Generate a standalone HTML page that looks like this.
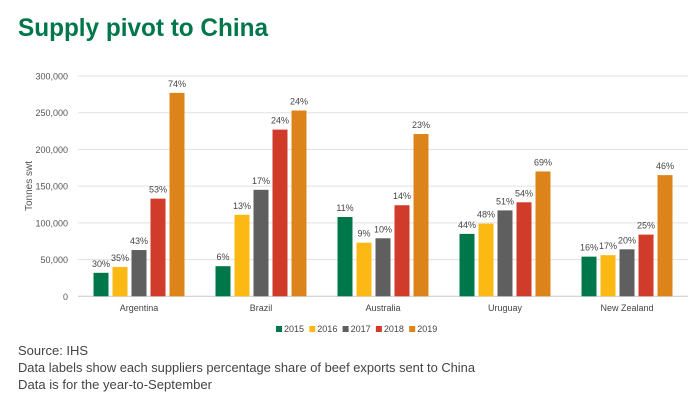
<!DOCTYPE html>
<html><head><meta charset="utf-8"><style>
body{margin:0;background:#fff}
svg{display:block;font-family:"Liberation Sans",sans-serif}
</style></head><body>
<svg id="chart" width="700" height="402" viewBox="0 0 700 402">
<text x="18" y="36" font-size="25" font-weight="bold" fill="#00774a" textLength="250" lengthAdjust="spacingAndGlyphs">Supply pivot to China</text>
<g id="grid"></g>
<g id="yaxis"></g>
<text transform="translate(32,186) rotate(-90)" text-anchor="middle" font-size="10" fill="#555">Tonnes swt</text>
<g id="bars"></g>
<g id="xaxis"></g>
<g id="legend"></g>
<g font-size="13" fill="#444">
<text x="18" y="355">Source: IHS</text>
<text x="18" y="372" textLength="457" lengthAdjust="spacingAndGlyphs">Data labels show each suppliers percentage share of beef exports sent to China</text>
<text x="18" y="389" textLength="194" lengthAdjust="spacingAndGlyphs">Data is for the year-to-September</text>
</g>
</svg>
<script>
const categories=["Argentina","Brazil","Australia","Uruguay","New Zealand"];
const years=["2015","2016","2017","2018","2019"];
const s2015=[32000,41000,108000,85000,54000];
const s2016=[40000,111000,73000,99000,56000];
const s2017=[63000,145000,79000,117000,64000];
const s2018=[133000,227000,124000,128000,84000];
const s2019=[277000,253000,221000,170000,165000];
const l2015=["30%","6%","11%","44%","16%"];
const l2016=["35%","13%","9%","48%","17%"];
const l2017=["43%","17%","10%","51%","20%"];
const l2018=["53%","24%","14%","54%","25%"];
const l2019=["74%","24%","23%","69%","46%"];
const yTicks=[0,50000,100000,150000,200000,250000,300000];
const colors=["#00774a","#fdb913","#5f5f5f","#d13b2a","#dc8419"];
const series=[s2015,s2016,s2017,s2018,s2019];
const labels=[l2015,l2016,l2017,l2018,l2019];
const NS="http://www.w3.org/2000/svg";
const x0=78,x1=688,y0=296.3,yTop=76,yMax=300000;
const yS=v=>y0-(v/yMax)*(y0-yTop);
const gw=(x1-x0)/categories.length;
const gc=i=>x0+gw*(i+0.5);
function mk(t,a,p){const e=document.createElementNS(NS,t);for(const k in a)e.setAttribute(k,a[k]);p.appendChild(e);return e;}
const grid=document.getElementById('grid'),ya=document.getElementById('yaxis');
yTicks.forEach(v=>{
 const l=mk('line',{x1:x0,x2:x1,y1:yS(v),y2:yS(v),stroke:v===0?'#c8c8c8':'#e0e0e0','stroke-width':1},grid);
 
 
 const t=mk('text',{x:68,y:yS(v)+3.5,'text-anchor':'end','font-size':9,fill:'#555'},ya);
 t.textContent=v.toLocaleString('en-US');
 
 
});
const bars=document.getElementById('bars'),xa=document.getElementById('xaxis');
const bw=15,pitch=19;
categories.forEach((c,i)=>{
 series.forEach((s,j)=>{
  const x=gc(i)+(j-2)*pitch-bw/2;
  const r=mk('rect',{x:x,y:yS(s[i]),width:bw,height:y0-yS(s[i]),fill:colors[j]},bars);
  
  
  const t=mk('text',{x:x+bw/2,y:yS(s[i])-6,'text-anchor':'middle','font-size':9,fill:'#444'},bars);
  t.textContent=labels[j][i];
  
  
 });
 const t=mk('text',{x:gc(i),y:311,'text-anchor':'middle','font-size':9,fill:'#444'},xa);
 t.textContent=c;
 
 
});
const lg=document.getElementById('legend');
years.forEach((y,j)=>{
 const lx=276+j*33.3;
 const g=mk('g',{},lg);
 
 
 mk('rect',{x:lx,y:326,width:6,height:6,fill:colors[j]},g);
 const t=mk('text',{x:lx+8,y:332,'font-size':9,fill:'#444'},g);
 t.textContent=y;
});
</script>
</body></html>
